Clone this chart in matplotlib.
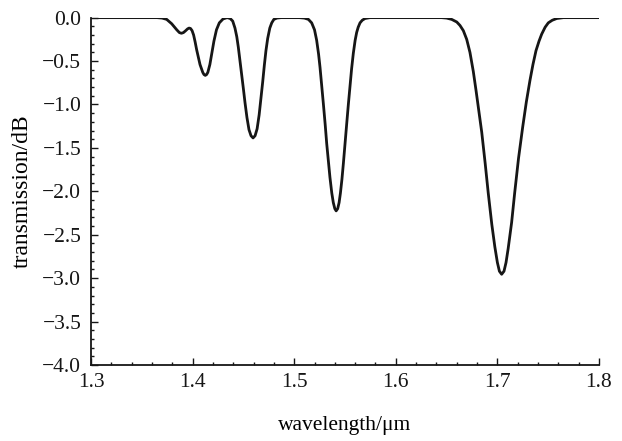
import matplotlib
matplotlib.use("Agg")
import matplotlib.pyplot as plt
from matplotlib.ticker import MultipleLocator

# values (wavelength in um, transmission in dB)
wavelength = [
    1.3000, 1.3400, 1.3650, 1.3700, 1.3745, 1.3794, 1.3844, 1.3870, 1.3890,
    1.3910, 1.3930, 1.3950, 1.3965, 1.3980, 1.3995, 1.4010, 1.4025, 1.4040,
    1.4073, 1.4100, 1.4112, 1.4125, 1.4138, 1.4150, 1.4170, 1.4188, 1.4210,
    1.4235, 1.4263, 1.4300, 1.4340, 1.4370,
    1.4395, 1.4417, 1.4435, 1.4450, 1.4467, 1.4483, 1.4500, 1.4516, 1.4535,
    1.4555, 1.4575, 1.4595, 1.4615, 1.4635, 1.4655, 1.4673, 1.4690, 1.4706,
    1.4722, 1.4739, 1.4760, 1.4779, 1.4800, 1.4830, 1.4870,
    1.5050, 1.5100, 1.5140, 1.5172, 1.5200, 1.5221, 1.5240, 1.5254, 1.5270,
    1.5287, 1.5305, 1.5320, 1.5336, 1.5352, 1.5370, 1.5385, 1.5400, 1.5413,
    1.5428, 1.5442, 1.5455, 1.5470, 1.5484, 1.5500, 1.5517, 1.5533, 1.5549,
    1.5565, 1.5582, 1.5600, 1.5615, 1.5630, 1.5648, 1.5670, 1.5697, 1.5746,
    1.6450, 1.6500, 1.6550, 1.6600, 1.6632, 1.6665, 1.6698, 1.6730, 1.6763,
    1.6790, 1.6812, 1.6846, 1.6880, 1.6910, 1.6945, 1.6975, 1.7000, 1.7020,
    1.7042, 1.7065, 1.7085, 1.7106, 1.7140, 1.7170, 1.7208, 1.7249, 1.7285,
    1.7321, 1.7350, 1.7380, 1.7410, 1.7436, 1.7470, 1.7501, 1.7540, 1.7584,
    1.7650, 1.8000]
transmission = [
    0.0, 0.0, 0.0, -0.005, -0.02, -0.07, -0.14, -0.172, -0.18,
    -0.172, -0.152, -0.13, -0.12, -0.125, -0.15, -0.20, -0.28, -0.37,
    -0.54, -0.63, -0.655, -0.665, -0.655, -0.63, -0.54, -0.42, -0.27,
    -0.14, -0.06, -0.015, 0.0, -0.01,
    -0.04, -0.12, -0.22, -0.34, -0.50, -0.66, -0.82, -0.98, -1.15,
    -1.29, -1.36, -1.385, -1.36, -1.28, -1.12, -0.93, -0.74, -0.55,
    -0.38, -0.24, -0.12, -0.06, -0.02, -0.005, 0.0,
    0.0, -0.005, -0.02, -0.06, -0.14, -0.26, -0.42, -0.57, -0.77,
    -0.99, -1.23, -1.45, -1.65, -1.84, -2.02, -2.13, -2.20, -2.225,
    -2.20, -2.13, -2.02, -1.86, -1.68, -1.45, -1.22, -1.00, -0.80,
    -0.59, -0.41, -0.26, -0.17, -0.11, -0.06, -0.03, -0.01, 0.0,
    0.0, -0.005, -0.02, -0.05, -0.09, -0.15, -0.25, -0.40, -0.62,
    -0.84, -1.03, -1.32, -1.68, -2.02, -2.38, -2.64, -2.82, -2.92,
    -2.955, -2.92, -2.82, -2.66, -2.36, -2.02, -1.62, -1.26, -0.97,
    -0.72, -0.54, -0.38, -0.27, -0.19, -0.11, -0.06, -0.03, -0.01,
    0.0, 0.0]

plt.rcParams['font.family'] = ['Liberation Serif', 'DejaVu Serif']

fig = plt.figure(figsize=(6.22, 4.41), dpi=100)
ax = fig.add_axes([0.1463, 0.1723, 0.8167, 0.7877])
ax.plot(wavelength, transmission, color="#161616", lw=2.0,
        solid_joinstyle="round", solid_capstyle="round")

ax.set_xlim(1.3, 1.8)
ax.set_ylim(-4.0, 0.0)
ax.xaxis.set_major_locator(MultipleLocator(0.1))
ax.xaxis.set_minor_locator(MultipleLocator(0.02))
ax.yaxis.set_major_locator(MultipleLocator(0.5))
ax.yaxis.set_minor_locator(MultipleLocator(0.1))
fmt = plt.FuncFormatter(lambda v, p: f"{v:.1f}".replace("-", "\u2212"))
ax.xaxis.set_major_formatter(fmt)
ax.yaxis.set_major_formatter(fmt)

for s in ["top", "right"]:
    ax.spines[s].set_visible(False)
for s in ["left", "bottom"]:
    ax.spines[s].set_linewidth(1.3)
    ax.spines[s].set_color("#161616")

ax.tick_params(which="both", direction="in", width=1.0, colors="#161616",
               labelsize=15.5, top=False, right=False)
ax.tick_params(which="major", length=5)
ax.tick_params(which="minor", length=2.5)
ax.tick_params(axis="x", which="major", pad=6)
ax.tick_params(axis="y", which="major", pad=7)

ax.set_xlabel("wavelength/\u03bcm", fontsize=15.5, labelpad=17)
ax.set_ylabel("transmission/dB", fontsize=17, labelpad=7)

fig.savefig("out.png", dpi=100)
